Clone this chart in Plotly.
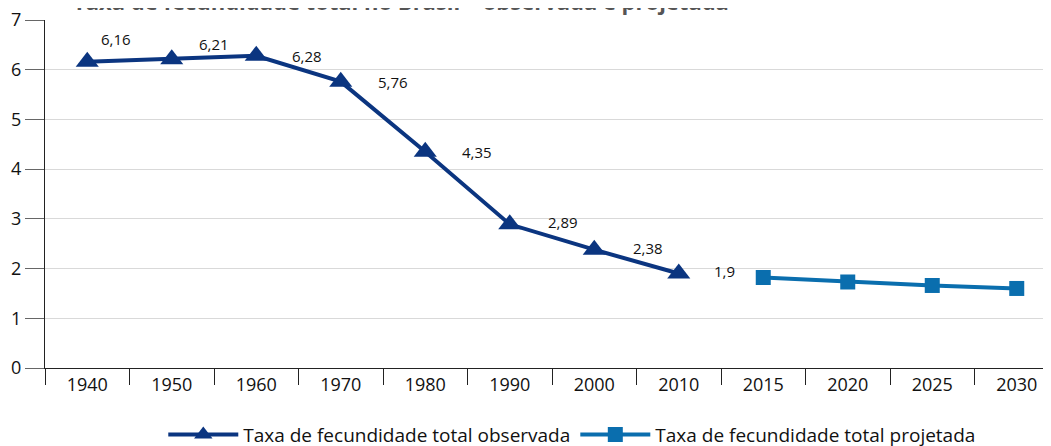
import plotly.graph_objects as go

years = ["1940", "1950", "1960", "1970", "1980", "1990", "2000", "2010", "2015", "2020", "2025", "2030"]
obs_years = ["1940", "1950", "1960", "1970", "1980", "1990", "2000", "2010"]
obs_values = [6.16, 6.21, 6.28, 5.76, 4.35, 2.89, 2.38, 1.9]
obs_labels = ["6,16", "6,21", "6,28", "5,76", "4,35", "2,89", "2,38", "1,9"]
proj_years = ["2015", "2020", "2025", "2030"]
proj_values = [1.82, 1.73, 1.66, 1.60]

title = "Taxa de fecundidade total no Brasil – observada e projetada"
font = "Open Sans"
navy = "#0b3580"
blue = "#0a6eae"

fig = go.Figure()

fig.add_trace(go.Scatter(
    x=obs_years, y=obs_values, mode="lines+markers",
    name="Taxa de fecundidade total observada",
    line=dict(color=navy, width=4),
    marker=dict(symbol="triangle-up", size=20, color=navy),
))
fig.add_trace(go.Scatter(
    x=proj_years, y=proj_values, mode="lines+markers",
    name="Taxa de fecundidade total projetada",
    line=dict(color=blue, width=4),
    marker=dict(symbol="square", size=15, color=blue),
))

# value labels, offsets (x by category index)
shifts = [(12, 23), (25, 15), (34, 0), (35, 0), (35, 0), (36, 2), (37, 2), (33, 3)]
for yr, val, lab, (dx, dy) in zip(obs_years, obs_values, obs_labels, shifts):
    fig.add_annotation(x=years.index(yr), y=val, text=lab, showarrow=False, xanchor="left",
                       xshift=dx, yshift=dy, font=dict(family=font, size=15, color="#111"))

# title, mostly cut off at the top of the page
fig.add_annotation(xref="paper", yref="paper", x=0.026, y=1, xanchor="left", yanchor="middle",
                   yshift=19, text="<b>" + title + "</b>", showarrow=False,
                   font=dict(family=font, size=22, color="#555"))

# the page body adds an 8px offset, so margins are reduced by 8 on left/top
fig.update_layout(
    width=1051, height=446,
    margin=dict(l=37, r=0, t=12, b=84),
    paper_bgcolor="white", plot_bgcolor="white",
    font=dict(family=font, size=18, color="#111"),
    xaxis=dict(type="category", categoryorder="array", categoryarray=years,
               range=[-0.5, 11.5], tickson="boundaries", ticks="outside", ticklen=16,
               tickcolor="#222", showgrid=False, showline=True, linecolor="#222",
               tickfont=dict(size=18)),
    yaxis=dict(range=[0, 7], dtick=1, ticks="outside", ticklen=19, tickcolor="#666",
               showgrid=True, gridcolor="#d9d9d9", gridwidth=1, showline=True,
               linecolor="#222", zeroline=False, tickfont=dict(size=18),
               ticklabeloverflow="allow"),
    legend=dict(orientation="h", x=0.52, xanchor="center", y=-67 / 350, yanchor="middle",
                font=dict(size=19), itemwidth=70, traceorder="normal"),
    showlegend=True,
)

fig.write_html("out.html")
